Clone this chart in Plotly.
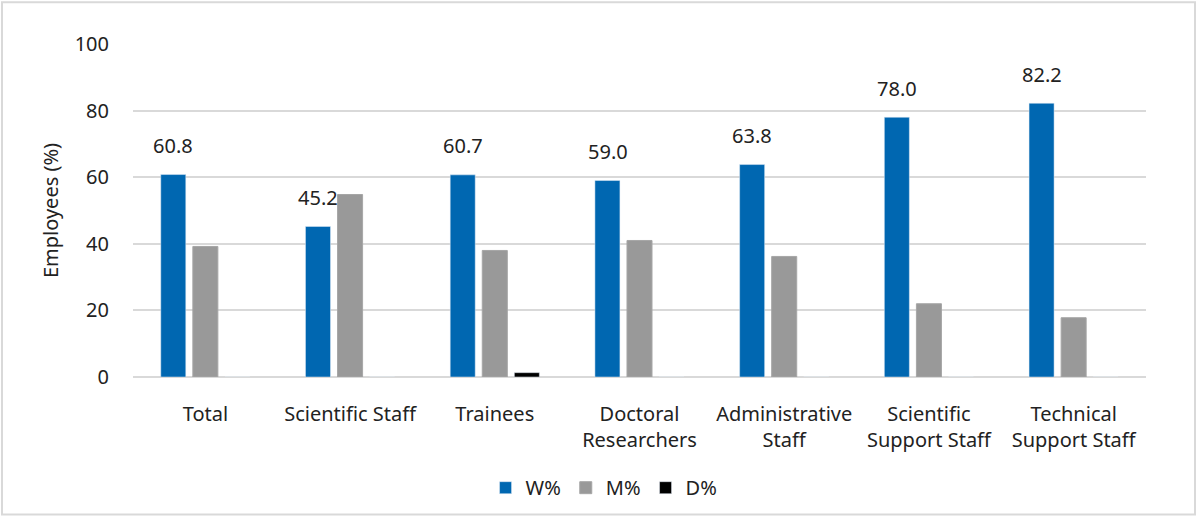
import plotly.graph_objects as go

categories = ["Total", "Scientific Staff", "Trainees", "Doctoral<br>Researchers",
              "Administrative<br>Staff", "Scientific<br>Support Staff", "Technical<br>Support Staff"]
w_pct = [60.8, 45.2, 60.7, 59.0, 63.8, 78.0, 82.2]
m_pct = [39.2, 54.8, 38.0, 41.0, 36.2, 22.0, 17.8]
d_pct = [0, 0, 1.3, 0, 0, 0, 0]
y_ticks = [0, 20, 40, 60, 80, 100]

FONT = "Noto Sans"
FS = 20
fig = go.Figure()
fig.add_trace(go.Bar(name="W%", x=categories, y=w_pct, marker_color="#0067b1"))
fig.add_trace(go.Bar(name="M%", x=categories, y=m_pct, marker_color="#999999",
                     marker_line=dict(color="#a6a6a6", width=1)))
fig.add_trace(go.Bar(name="D%", x=categories, y=d_pct, marker_color="#000000"))

# data labels above the W% bars
for c, v in zip(categories, w_pct):
    fig.add_annotation(x=c, y=v, text=f"{v:.1f}", showarrow=False,
                       xshift=-32, yshift=29, yanchor="middle",
                       font=dict(size=FS, color="#222222", family=FONT))

fig.update_layout(
    barmode="group", bargap=0.335, bargroupgap=0.22,
    width=1198, height=518,
    margin=dict(l=133, r=52, t=44, b=140),
    plot_bgcolor="white", paper_bgcolor="white",
    font=dict(family=FONT, size=FS, color="#222222"),
    legend=dict(orientation="h", x=0.465, xanchor="center", y=-0.27, yanchor="top",
                font=dict(size=FS), itemwidth=30, traceorder="normal"),
    yaxis=dict(range=[0, 100], tickvals=y_ticks, showgrid=True, gridcolor="#d9d9d9",
               gridwidth=2, zeroline=True, zerolinecolor="#d9d9d9", zerolinewidth=2,
               title=dict(text="Employees (%)", font=dict(size=FS), standoff=10),
               ticklabelstandoff=23, showline=False),
    xaxis=dict(showline=False, tickfont=dict(size=FS), ticklabelstandoff=23),
    showlegend=True,
    shapes=[dict(type="rect", xref="paper", yref="paper",
                 x0=-131/1013, x1=1+49/1013, y0=-138/334, y1=1+42/334,
                 line=dict(color="#d9d9d9", width=2), fillcolor="rgba(0,0,0,0)", layer="below")],
)
fig.write_html("out.html", config={"displayModeBar": False},
               post_script="document.body.style.margin='0';")
